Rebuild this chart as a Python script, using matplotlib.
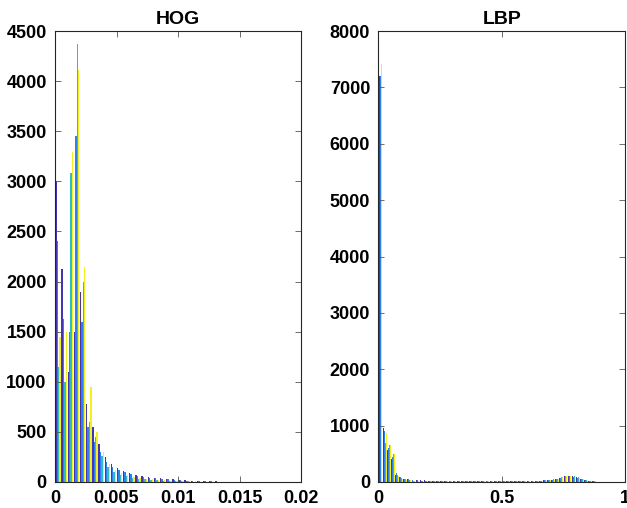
import numpy as np
import matplotlib.pyplot as plt

# colours of the four series (parula-like)
farben = ['#4535b5', '#2d7ff2', '#30bcc4', '#f2f01e']

# HOG histogram, bin width 0.0005 from 0 to 0.02
hog_binw = 0.0005
hog_dark = [3000, 2130, 1100, 1500, 1900, 780, 550, 380, 250, 180,
            140, 110, 90, 70, 55, 45, 40, 35, 30, 25,
            20, 15, 10, 8, 6, 5, 5, 4, 4, 3,
            3, 3, 2, 2, 2, 2, 2, 1, 1, 1]
hog_blue = [2400, 1630, 1500, 3450, 1600, 550, 400, 300, 200, 150,
            120, 100, 80, 60, 50, 40, 35, 30, 25, 20,
            18, 12, 10, 8, 6, 5, 4, 4, 3, 3,
            3, 2, 2, 2, 2, 1, 1, 1, 1, 1]
hog_teal = [1150, 1000, 3080, 4370, 2000, 600, 450, 260, 150, 100,
            70, 55, 40, 30, 25, 20, 15, 12, 10, 8,
            6, 5, 4, 3, 3, 3, 2, 2, 2, 2,
            1, 1, 1, 1, 1, 1, 1, 1, 1, 1]
hog_yellow = [1450, 1500, 3290, 4110, 2150, 950, 500, 300, 180, 120,
              90, 65, 50, 40, 30, 25, 20, 15, 12, 10,
              8, 6, 5, 4, 4, 3, 3, 2, 2, 2,
              2, 1, 1, 1, 1, 1, 1, 1, 1, 1]

# LBP histogram, 54 bins of width 1/60
lbp_binw = 1 / 60
lbp_dark = [7200, 950, 570, 400, 130, 90, 60, 50, 32, 30,
            28, 27, 26, 25, 24, 24, 23, 22, 22, 21,
            21, 20, 20, 20, 20, 19, 19, 19, 19, 19,
            19, 19, 19, 20, 20, 20, 21, 22, 24, 26,
            30, 36, 42, 55, 75, 100, 110, 100, 80, 55,
            32, 20, 14, 8]
lbp_blue = [7200, 900, 600, 450, 160, 80, 55, 45, 30, 28,
            26, 25, 24, 23, 22, 22, 21, 20, 20, 19,
            19, 18, 18, 18, 18, 17, 17, 17, 17, 17,
            17, 17, 18, 18, 18, 19, 20, 21, 22, 25,
            28, 34, 40, 52, 70, 95, 105, 95, 75, 50,
            30, 18, 12, 7]
lbp_teal = [7450, 700, 650, 500, 120, 70, 45, 40, 26, 24,
            22, 21, 20, 20, 19, 19, 18, 18, 17, 17,
            17, 16, 16, 16, 16, 16, 16, 16, 16, 16,
            16, 16, 16, 17, 17, 18, 19, 20, 22, 24,
            28, 35, 45, 60, 85, 105, 115, 100, 80, 50,
            30, 18, 12, 6]
lbp_yellow = [7420, 870, 660, 500, 100, 60, 40, 35, 22, 20,
              20, 19, 18, 18, 17, 17, 17, 16, 16, 16,
              15, 15, 15, 15, 15, 15, 15, 15, 15, 15,
              15, 15, 15, 16, 16, 17, 18, 19, 20, 22,
              26, 32, 40, 55, 80, 100, 108, 95, 72, 45,
              26, 16, 10, 5]

plt.rcParams['font.family'] = ['Liberation Sans', 'DejaVu Sans']
plt.rcParams['font.weight'] = 'bold'


def gruppen_balken(ax, reihen, binw):
    n = len(reihen)
    w = 0.9 * binw / n
    for i, (werte, farbe) in enumerate(zip(reihen, farben)):
        mitte = (np.arange(len(werte)) + 0.5) * binw
        ax.bar(mitte + (i - (n - 1) / 2) * w, werte, width=w,
               color=farbe, linewidth=0, align='center')


def matlab_stil(ax):
    for s in ax.spines.values():
        s.set_linewidth(0.8)
        s.set_color('#262626')
    ax.tick_params(direction='in', top=True, right=True, length=4,
                   width=0.6, color='#555555', labelsize=13, pad=6)
    for lab in ax.get_xticklabels() + ax.get_yticklabels():
        lab.set_fontweight('bold')


fig = plt.figure(figsize=(6.27, 5.08), dpi=100)

ax1 = fig.add_axes([55 / 627, 1 - 482 / 508, 246 / 627, 451 / 508])
gruppen_balken(ax1, [hog_dark, hog_blue, hog_teal, hog_yellow], hog_binw)
ax1.set_xlim(0, 0.02)
ax1.set_ylim(0, 4500)
ax1.set_xticks([0, 0.005, 0.01, 0.015, 0.02])
ax1.set_xticklabels(['0', '0.005', '0.01', '0.015', '0.02'])
ax1.set_yticks(np.arange(0, 4501, 500))
ax1.set_title('HOG', fontsize=14, fontweight='bold', pad=5)
matlab_stil(ax1)

ax2 = fig.add_axes([378.5 / 627, 1 - 482 / 508, 246.5 / 627, 451 / 508])
gruppen_balken(ax2, [lbp_dark, lbp_blue, lbp_teal, lbp_yellow], lbp_binw)
ax2.set_xlim(0, 1)
ax2.set_ylim(0, 8000)
ax2.set_xticks([0, 0.5, 1])
ax2.set_xticklabels(['0', '0.5', '1'])
ax2.set_yticks(np.arange(0, 8001, 1000))
ax2.set_title('LBP', fontsize=14, fontweight='bold', pad=5)
matlab_stil(ax2)

fig.savefig('out.png', dpi=100)
